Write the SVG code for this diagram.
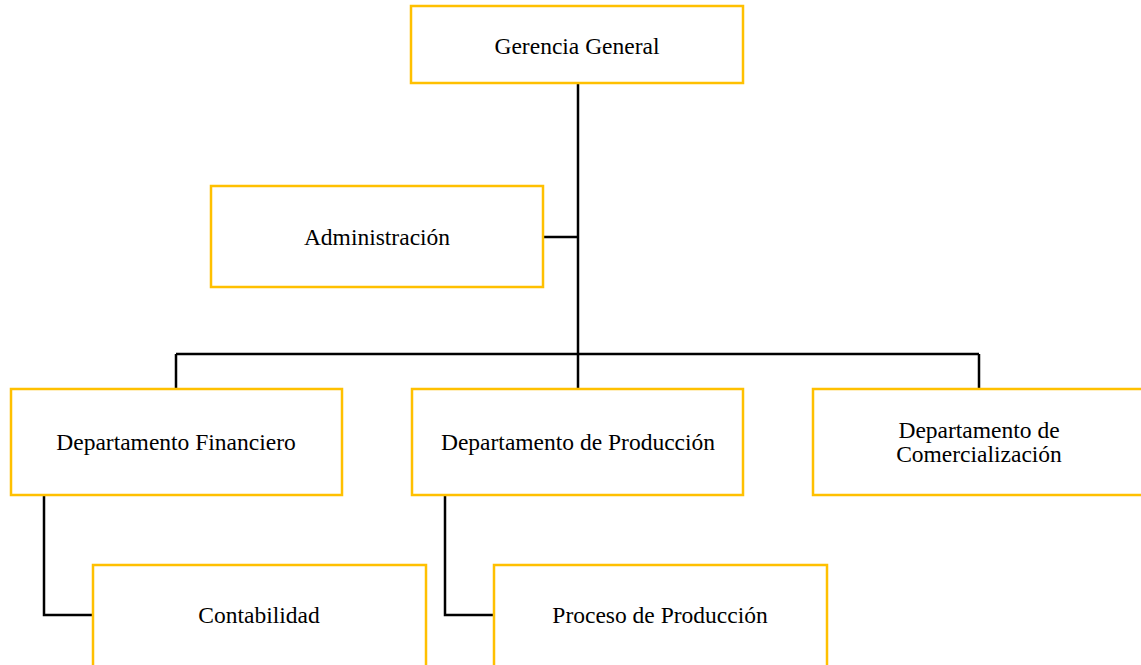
<svg xmlns="http://www.w3.org/2000/svg" width="1141" height="665" viewBox="0 0 1141 665">
<style>
.box{fill:#fff;stroke:#FFC000;stroke-width:2.5}
.t{font-family:"Liberation Serif","Times New Roman",serif;font-size:23.5px;fill:#000;text-anchor:middle}
.c{fill:none;stroke:#000;stroke-width:2.5}
</style>
<rect width="1141" height="665" fill="#fff"/>
<g id="connectors">
<path class="c" d="M578 83V354M543 237H578M176 354H979M176 354V389M578 354V389M979 354V389M44 495V615H93M445 495V615H494"/>
</g>
<g id="gerencia"><rect class="box" x="411" y="6" width="332" height="77"/><text class="t" x="577" y="54">Gerencia General</text></g>
<g id="admin"><rect class="box" x="211" y="186" width="332" height="101"/><text class="t" x="377" y="245">Administración</text></g>
<g id="financiero"><rect class="box" x="11" y="389" width="331" height="106"/><text class="t" x="176" y="450">Departamento Financiero</text></g>
<g id="produccion"><rect class="box" x="412" y="389" width="331" height="106"/><text class="t" x="578" y="450">Departamento de Producción</text></g>
<g id="comercializacion"><rect class="box" x="813" y="389" width="332" height="106"/><text class="t" x="979" y="438">Departamento de</text><text class="t" x="979" y="462">Comercialización</text></g>
<g id="contabilidad"><rect class="box" x="93" y="565" width="333" height="110"/><text class="t" x="259" y="623">Contabilidad</text></g>
<g id="proceso"><rect class="box" x="494" y="565" width="333" height="110"/><text class="t" x="660" y="623">Proceso de Producción</text></g>
</svg>
